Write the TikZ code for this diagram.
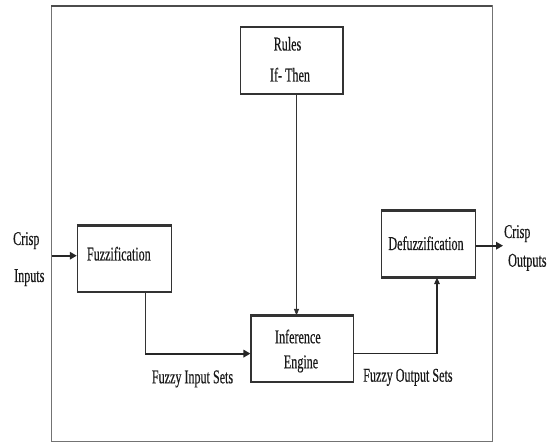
\documentclass[tikz,border=0pt]{standalone}
\usepackage{fontspec}
\setmainfont{Liberation Serif}
\newfontfamily\cond[FakeStretch=0.62,FakeBold=0.4]{Liberation Serif}
\usetikzlibrary{arrows.meta}
% stacked lines with zero height: baseline of last line sits at the node anchor, shifted by #1
\newcommand\stk[3]{\raisebox{#1}[0pt][0pt]{\begin{tabular}[b]{@{}#2@{}}#3\end{tabular}}}
\newcommand\one[2]{\raisebox{#1}[0pt][0pt]{#2}}
\begin{document}
\begin{tikzpicture}[x=1pt,y=-1pt,
  every node/.style={font=\cond\fontsize{19.5}{20}\selectfont, text=black!90},
  blk/.style={draw=black!80, line width=1.1pt, fill=white, inner sep=0pt, align=center},
  hedge/.style={draw=black!80, line width=2.1pt},
  thinarr/.style={draw=black!80, line width=0.9pt, -{Triangle[length=6.5pt,width=5pt]}},
  thickarr/.style={draw=black!85, line width=2.1pt, -{Triangle[length=7pt,width=7.5pt]}},
  lbl/.style={inner sep=0pt}]
\useasboundingbox (0,0) rectangle (555,443);
% frame
\draw[draw=black!55, line width=1pt] (51,6) rectangle (492.3,442);
\draw[draw=black!70, line width=1.6pt] (51,6) -- (492.3,6);
% blocks
\node[blk, minimum width=102.3pt, minimum height=66pt] (rules) at (291.85,60.3)
  {\stk{-21.2pt}{c}{Rules\hspace*{5pt}\\[11pt]If- Then}\hspace*{3.7pt}};
\node[blk, minimum width=94.4pt, minimum height=65.7pt] (fuzz) at (124.5,258.85)
  {\one{-1.65pt}{Fuzzification}\hspace*{11.3pt}};
\node[blk, minimum width=102.3pt, minimum height=65.7pt] (inf) at (302.15,348.85)
  {\stk{-19.45pt}{c}{Inference\hspace*{6.3pt}\\[5pt]Engine}\hspace*{2.3pt}};
\node[blk, minimum width=94pt, minimum height=66pt] (defuzz) at (428.7,244)
  {\one{-6pt}{Defuzzification}\hspace*{5.4pt}};
\foreach \b in {rules,fuzz,inf,defuzz}{
  \draw[hedge] (\b.north west) -- (\b.north east);
  \draw[hedge] (\b.south west) -- (\b.south east);
}
% labels
\node[lbl, anchor=west] (cin) at (13,282) {\stk{0pt}{l}{Crisp\\[17pt]\hspace*{1pt}Inputs}};
\node[lbl, anchor=west] (cout) at (504,266.7) {\stk{0pt}{l}{Crisp\\[8.7pt]\hspace*{4pt}Outputs}};
\node[lbl, anchor=base west] (fis) at (151.7,383.3) {Fuzzy Input Sets};
\node[lbl, anchor=base west] (fos) at (363,381.7) {Fuzzy Output Sets};
% connector points
\coordinate (inA) at (51.5,255.7);
\coordinate (fuzzdown) at (145.9,291.7);
\coordinate (bend1) at (145.9,353.6);
\coordinate (infout) at (353.3,353.6);
\coordinate (bend2) at (437,353.6);
\coordinate (outA) at (475.7,245.7);
\coordinate (outB) at (503,245.7);
\coordinate (rulesdown) at (296.5,93.3);
% connectors
\draw[thickarr] (inA) -- (inA -| fuzz.west);
\draw[draw=black!80, line width=1pt] (fuzzdown) -- (bend1);
\draw[thickarr] ([xshift=-0.5pt]bend1) -- (bend1 -| inf.west);
\draw[thinarr] (rulesdown) -- (rulesdown |- inf.north);
\draw[draw=black!85, line width=1.7pt] (infout) -- ([xshift=0.7pt]bend2);
\draw[draw=black!85, line width=1.4pt, -{Triangle[length=6.5pt,width=5.5pt]}] (bend2) -- (bend2 |- defuzz.south);
\draw[thickarr] (outA) -- (outB);
\end{tikzpicture}
\end{document}
